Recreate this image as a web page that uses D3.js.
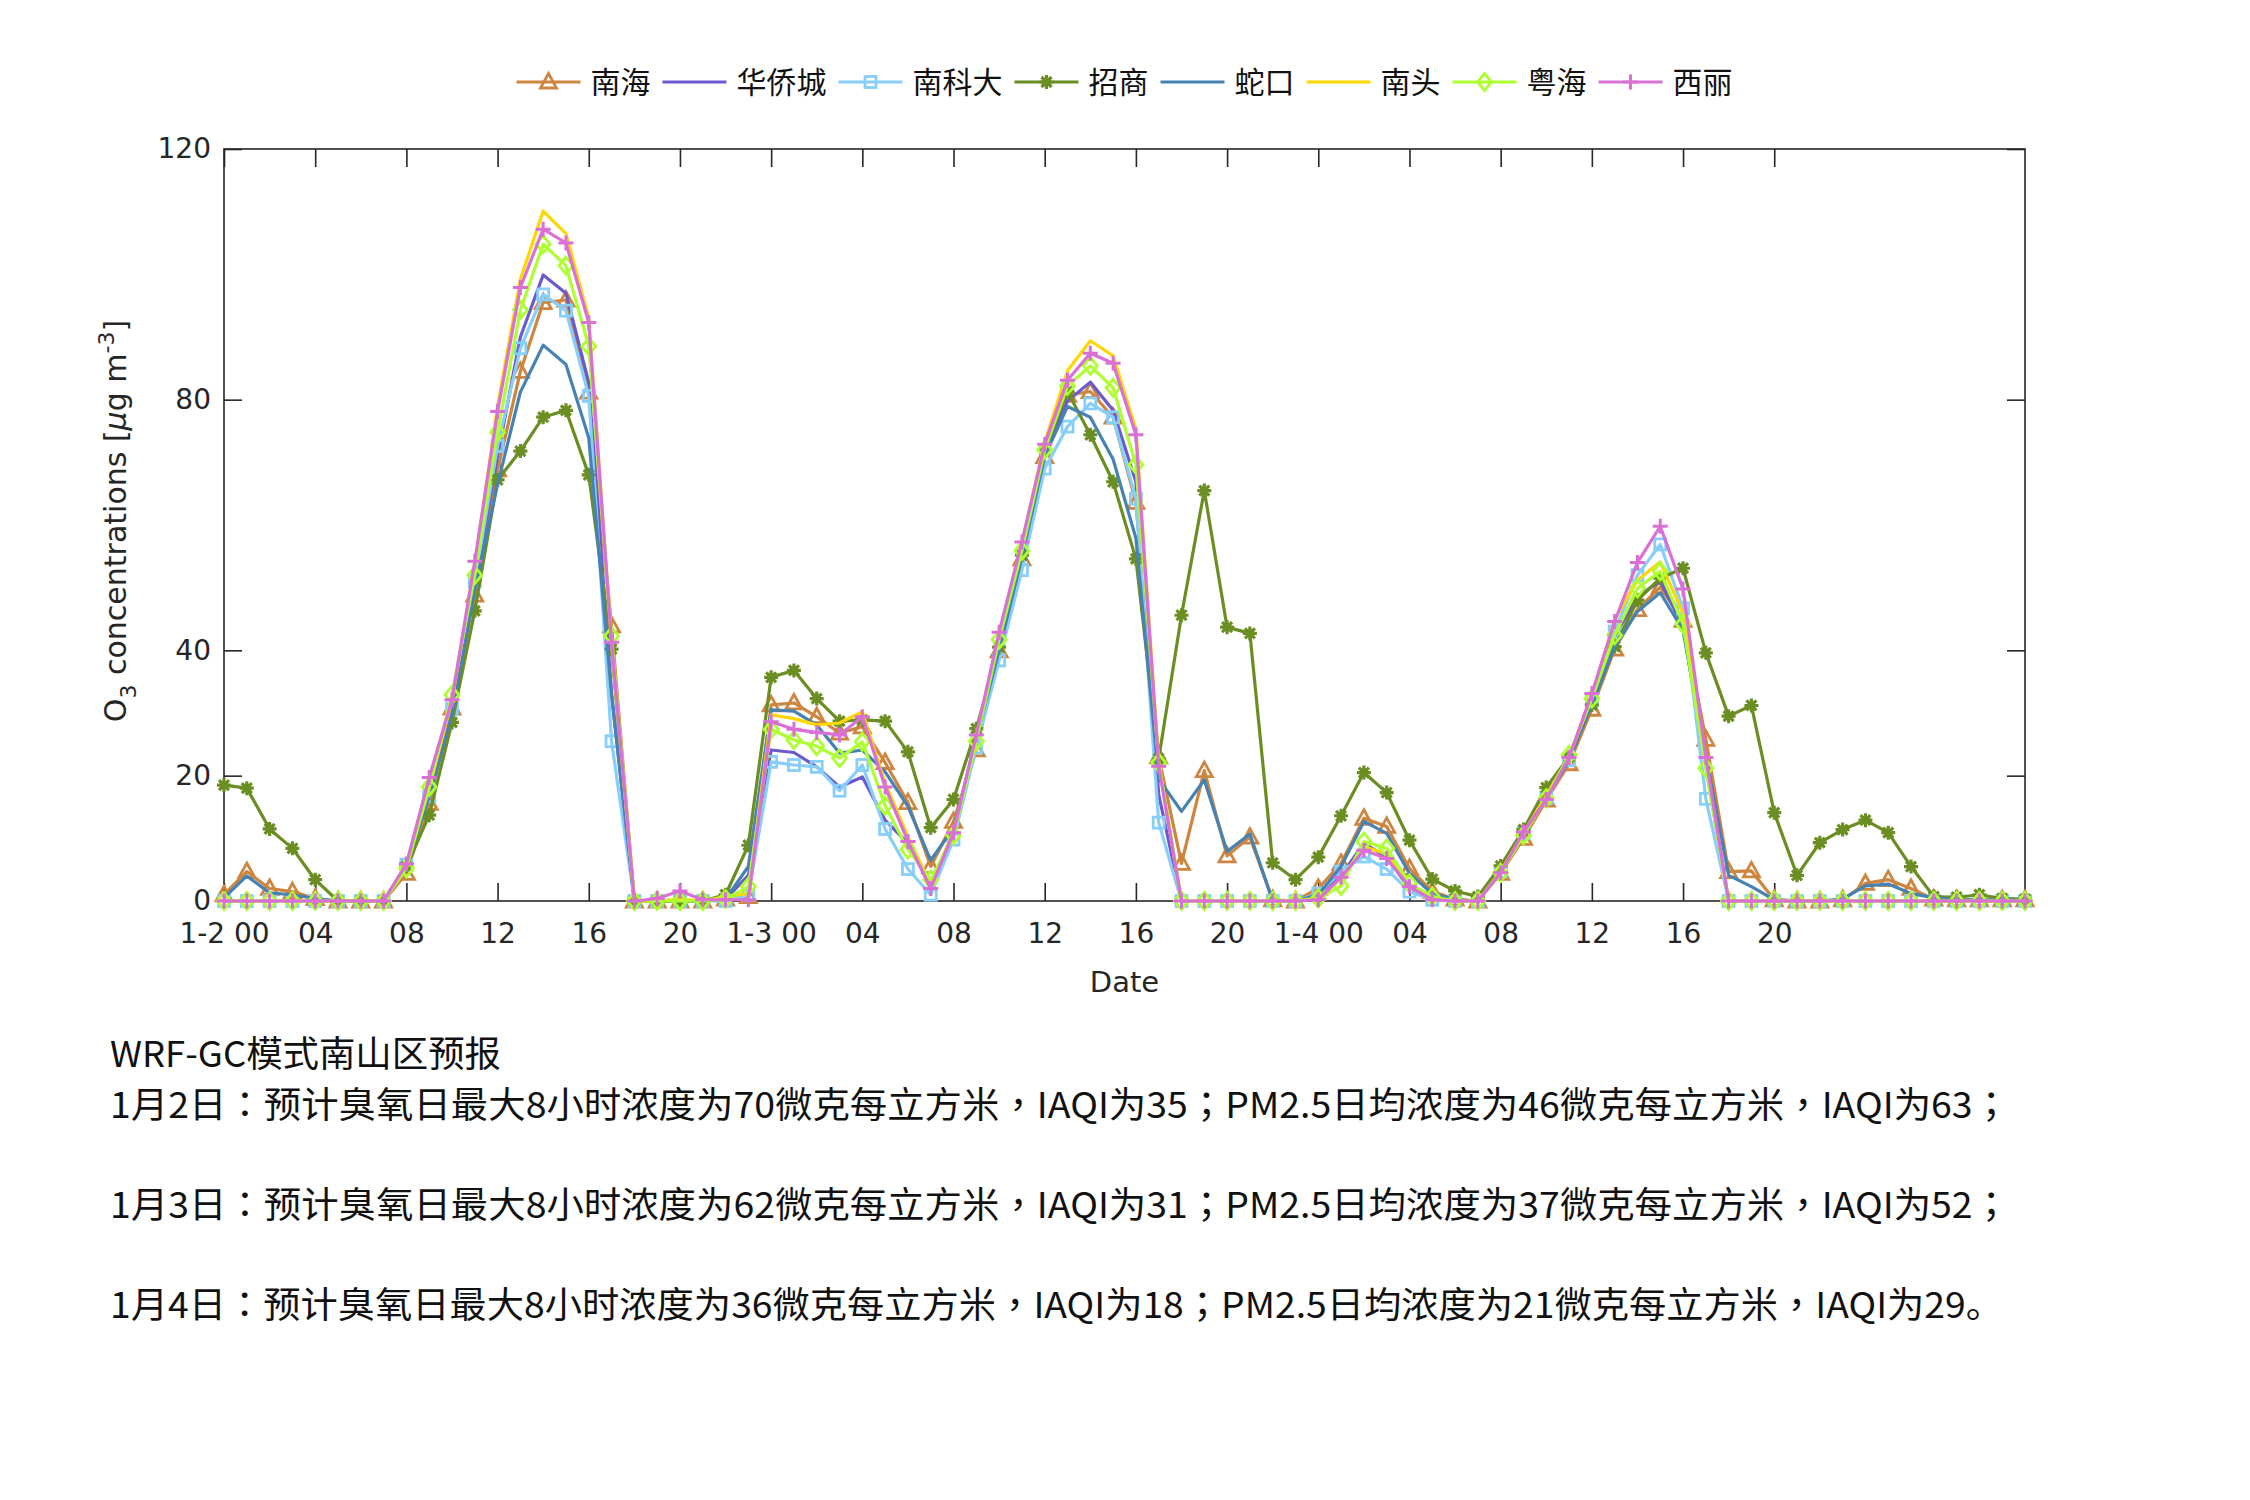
<!DOCTYPE html>
<html><head><meta charset="utf-8">
<script src="https://cdn.jsdelivr.net/npm/d3@7"></script>
<style>body{margin:0;background:#fff}</style>
</head><body>
<svg id="c" width="2250" height="1500" xmlns="http://www.w3.org/2000/svg"></svg>
<script>
// ---------------- data ----------------
const hours = d3.range(80); // hourly from 1-2 00
const stations = ["南海","华侨城","南科大","招商","蛇口","南头","粤海","西丽"];
const stationColors = ["#CD853F","#6A5ACD","#87CEFA","#6B8E23","#4682B4","#FFD700","#ADFF2F","#DA70D6"];
const stationMarkers = ["triangle","none","square","asterisk","none","none","diamond","plus"];

const nanhai = [1.0,4.7,2.0,1.5,0.4,0,0,0,4.4,15.6,
 30.8,48.8,68.8,84.5,95.5,95.9,81.2,43.9,0,0,
 0,0,0.3,0.7,31.3,31.6,29.4,26.8,27.8,22.1,
 15.7,5.5,12.7,24.1,39.9,54.6,70.9,80.7,81.3,77.2,
 63.6,23.0,6.0,20.8,7.2,10.2,0.2,0,2.0,6.0,
 13.2,11.9,5.2,1.5,0.3,0,4.4,10.0,16.1,21.9,
 30.6,40.2,46.5,50.1,44.8,25.8,4.7,4.8,0.2,0,
 0,0.2,2.8,3.4,2.0,0.3,0.2,0.2,0.2,0.2];
const huaqiaocheng = [0,0,0,0,0,0,0,0,5.8,16.7,
 30.0,50.5,71.0,90.0,99.9,97.0,82.7,33.0,0,0,
 0,0,0.3,4.1,24.1,23.7,21.4,18.2,19.8,12.9,
 9.2,2.3,10.8,25.5,40.5,55.5,71.5,79.8,82.8,78.3,
 66.9,17.0,0,0,0,0,0,0,0.5,4.1,
 9.2,7.0,2.0,0.3,0,0,4.7,10.8,16.5,22.5,
 31.5,42.2,48.6,51.0,43.8,21.5,0,0,0,0,
 0,0,0,0,0,0,0,0,0,0];
const nankeda = [0,0,0,0,0,0,0,0,5.8,16.7,
 30.7,51.0,72.6,88.2,96.8,94.2,80.6,25.5,0,0,
 0,0,0,1.0,22.2,21.7,21.4,17.6,21.7,11.5,
 5.1,1.0,9.8,24.5,38.4,52.8,69.0,75.7,79.4,77.2,
 64.2,12.5,0,0,0,0,0,0,1.2,4.7,
 7.1,5.1,1.5,0.2,0,0,4.7,10.8,16.5,22.5,
 32.0,43.0,52.0,56.9,46.7,16.3,0,0,0,0,
 0,0,0,0,0,0,0,0,0,0];
const zhaoshang = [18.5,18.0,11.5,8.4,3.4,0,0,0,5.5,13.7,
 28.5,46.3,67.2,71.8,77.2,78.3,68.0,40.2,0,0,
 0,0,1.0,8.9,35.7,36.8,32.3,28.7,28.9,28.7,
 23.8,11.7,16.2,27.5,40.5,55.2,72.0,81.3,74.4,66.9,
 54.6,22.7,45.6,65.5,43.7,42.7,6.1,3.4,7.0,13.6,
 20.5,17.3,9.7,3.5,1.6,0.7,5.6,11.4,18.1,23.0,
 31.3,40.6,48.0,51.5,53.1,39.6,29.5,31.2,14.1,4.1,
 9.3,11.4,12.9,10.9,5.5,0.7,0.6,1.0,0.4,0.3];
const shekou = [0.5,4.0,1.3,1.0,0.4,0,0,0,5.5,16.7,
 30.0,49.7,66.5,81.2,88.7,85.6,73.9,33.0,0,0,
 0,0,0.3,5.5,30.5,30.3,28.1,23.6,24.1,20.6,
 15.1,6.5,11.6,26.0,40.0,54.9,71.0,78.9,77.2,70.5,
 57.9,19.5,14.3,19.3,7.9,10.7,0,0,1.0,5.5,
 12.7,10.8,4.4,1.2,0.2,0,4.7,10.8,16.5,22.5,
 31.5,40.6,46.2,49.2,43.2,23.0,4.1,2.3,0.2,0,
 0,0.3,2.4,2.7,1.2,0.5,0.2,0.2,0.2,0.2];
const nantou = [0,0,0,0,0,0,0,0,5.8,18.0,
 32.0,53.4,79.0,99.2,110.1,106.5,93.0,41.0,0,0,
 0.3,0,0.7,1.2,29.7,29.1,28.1,28.4,30.2,18.8,
 10.3,2.6,11.1,26.0,42.3,57.0,73.2,84.6,89.4,87.0,
 75.3,22.0,0,0,0,0,0,0,0.5,3.5,
 8.7,7.5,2.5,0.3,0,0,4.7,10.8,16.8,23.0,
 32.5,44.9,51.2,54.1,45.9,22.0,0,0,0,0,
 0,0,0,0,0,0,0,0,0,0];
const yuehai = [0,0,0,0,0,0,0,0,5.2,18.2,
 32.9,52.0,74.8,94.3,104.8,101.4,88.5,42.3,0,0,
 0,0,0.3,2.3,27.4,25.7,24.7,22.8,25.4,15.2,
 8.2,3.4,10.5,25.5,41.7,55.9,72.0,82.2,85.4,81.9,
 69.6,22.1,0,0,0,0,0,0,0.4,2.4,
 9.5,8.4,2.8,0.7,0,0,4.5,10.5,16.4,23.3,
 32.3,42.4,49.9,52.6,44.2,21.2,0,0,0,0,
 0,0,0,0,0,0,0,0,0,0];
const xili = [0,0,0,0,0,0,0,0,5.9,19.7,
 32.1,54.2,78.1,97.9,107.2,105.0,92.3,41.3,0,0.4,
 1.6,0.2,0.2,0.2,28.6,27.4,26.9,26.5,29.4,18.2,
 9.5,2.0,10.9,26.5,42.9,57.3,72.9,83.1,87.4,85.8,
 74.4,21.5,0,0,0,0,0,0,0.2,3.8,
 8.1,6.8,2.3,0.2,0,0,4.5,11.0,16.2,22.9,
 33.1,44.6,54.0,59.8,49.8,22.9,0,0,0,0,
 0,0,0,0,0,0,0,0,0,0];

const seriesValues = [nanhai, huaqiaocheng, nankeda, zhaoshang, shekou, nantou, yuehai, xili];

const yTickValues = [0,20,40,80,120];
const xTickHours = [0,4,8,12,16,20,24,28,32,36,40,44,48,52,56,60,64,68];
const xTickLabels = ["1-2 00","04","08","12","16","20","1-3 00","04","08","12","16","20","1-4 00","04","08","12","16","20"];
const xLabel = "Date";
const noteTitle = "WRF-GC模式南山区预报";
const noteLines = [
 "1月2日：预计臭氧日最大8小时浓度为70微克每立方米，IAQI为35；PM2.5日均浓度为46微克每立方米，IAQI为63；",
 "1月3日：预计臭氧日最大8小时浓度为62微克每立方米，IAQI为31；PM2.5日均浓度为37微克每立方米，IAQI为52；",
 "1月4日：预计臭氧日最大8小时浓度为36微克每立方米，IAQI为18；PM2.5日均浓度为21微克每立方米，IAQI为29。"
];

// ---------------- layout ----------------
const L = 224, R = 2025, T = 149, B = 901;
const axisColor = "#262626";
const latin = "'DejaVu Sans', sans-serif";
const cjk = "'Noto Sans CJK SC', 'DejaVu Sans', sans-serif";
const cjkNote = "'Noto Sans CJK TC', 'Noto Sans CJK SC', sans-serif";

const svg = d3.select("#c");
const x = d3.scaleLinear().domain([0, 79]).range([L, R]);
const y = d3.scaleLinear().domain([0, 120]).range([B, T]);

// axes
function styleAxis(g){
  g.select(".domain").remove();
  g.selectAll(".tick line").attr("stroke", axisColor).attr("stroke-width", 1.6);
  g.selectAll(".tick text").attr("fill", axisColor).attr("font-family", latin).attr("font-size", 28);
}
svg.append("g").attr("transform", `translate(0,${B})`)
  .call(d3.axisBottom(x).tickValues(xTickHours).tickFormat((d,i)=>xTickLabels[i]).tickSizeInner(-18).tickSizeOuter(0).tickPadding(22))
  .call(styleAxis);
svg.append("g").attr("transform", `translate(0,${T})`)
  .call(d3.axisTop(x).tickValues(xTickHours).tickFormat("").tickSizeInner(-18).tickSizeOuter(0))
  .call(styleAxis);
svg.append("g").attr("transform", `translate(${L},0)`)
  .call(d3.axisLeft(y).tickValues(yTickValues).tickSizeInner(-18).tickSizeOuter(0).tickPadding(13))
  .call(styleAxis);
svg.append("g").attr("transform", `translate(${R},0)`)
  .call(d3.axisRight(y).tickValues(yTickValues).tickFormat("").tickSizeInner(-18).tickSizeOuter(0))
  .call(styleAxis);
svg.append("rect").attr("x", L).attr("y", T).attr("width", R-L).attr("height", B-T)
  .attr("fill","none").attr("stroke", axisColor).attr("stroke-width", 1.6);

// axis labels
svg.append("text").attr("x", (L+R)/2).attr("y", 992).attr("text-anchor","middle")
  .attr("font-family", latin).attr("font-size", 29).attr("fill", axisColor).text(xLabel);
const yl = svg.append("text").attr("transform", `translate(126,${(T+B)/2 - 4}) rotate(-90)`)
  .attr("text-anchor","middle").attr("font-family", latin).attr("font-size", 30).attr("fill", axisColor);
yl.append("tspan").text("O");
yl.append("tspan").attr("dy", 10).attr("font-size", 22).text("3");
yl.append("tspan").attr("dy", -10).text(" concentrations [");
yl.append("tspan").attr("font-style","italic").text("μ");
yl.append("tspan").text("g m");
yl.append("tspan").attr("dy", -12).attr("font-size", 22).text("-3");
yl.append("tspan").attr("dy", 12).text("]");

// markers
function drawMarker(g, type, color){
  if (type === "triangle") {
    g.append("path").attr("d","M0,-8.5L8,6L-8,6Z").attr("fill","none").attr("stroke",color).attr("stroke-width",2.8);
  } else if (type === "square") {
    g.append("rect").attr("x",-5.5).attr("y",-5.5).attr("width",11).attr("height",11).attr("fill","none").attr("stroke",color).attr("stroke-width",2.8);
  } else if (type === "diamond") {
    g.append("path").attr("d","M0,-8.5L7,0L0,8.5L-7,0Z").attr("fill","none").attr("stroke",color).attr("stroke-width",2.8);
  } else if (type === "plus") {
    g.append("path").attr("d","M-7.5,0H7.5M0,-7.5V7.5").attr("fill","none").attr("stroke",color).attr("stroke-width",3);
  } else if (type === "asterisk") {
    g.append("path").attr("d","M-7,0H7M0,-7V7M-5,-5L5,5M-5,5L5,-5").attr("fill","none").attr("stroke",color).attr("stroke-width",3.2);
    g.append("circle").attr("r",4).attr("fill",color);
  }
}

// series
const line = d3.line().x((d,i)=>x(hours[i])).y(d=>y(d));
seriesValues.forEach((vals, k) => {
  const color = stationColors[k];
  const g = svg.append("g");
  g.append("path").datum(vals).attr("d", line).attr("fill","none")
    .attr("stroke", color).attr("stroke-width", 3.2).attr("stroke-linejoin","round");
  if (stationMarkers[k] !== "none") {
    vals.forEach((v,i) => {
      const mg = g.append("g").attr("transform", `translate(${x(hours[i])},${y(v)})`);
      drawMarker(mg, stationMarkers[k], color);
    });
  }
});

// legend
const legend = svg.append("g");
let cx = 0;
const legendY = 82;
stations.forEach((name, k) => {
  const it = legend.append("g").attr("transform", `translate(${cx},0)`);
  it.append("line").attr("x1",0).attr("x2",64).attr("y1",legendY).attr("y2",legendY)
    .attr("stroke", stationColors[k]).attr("stroke-width",3.2);
  if (stationMarkers[k] !== "none") {
    drawMarker(it.append("g").attr("transform", `translate(32,${legendY})`), stationMarkers[k], stationColors[k]);
  }
  const t = it.append("text").attr("x", 74).attr("y", legendY + 11).attr("font-family", cjk)
    .attr("font-size", 30).attr("fill","#111").text(name);
  cx += 74 + t.node().getComputedTextLength() + 12;
});
legend.attr("transform", `translate(${(L+R)/2 - (cx-12)/2},0)`);

// notes
const noteX = 110;
svg.append("text").attr("x", noteX).attr("y", 1067).attr("font-family", cjkNote).attr("font-size", 36)
  .attr("fill","#111").attr("textLength", 391).attr("lengthAdjust","spacingAndGlyphs").text(noteTitle);
const noteYs = [1118, 1218, 1318];
const noteWidths = [1900, 1900, 1893];
noteLines.forEach((s,i) => {
  const t = svg.append("text").attr("x", noteX).attr("y", noteYs[i]).attr("font-family", cjkNote).attr("font-size", 36)
    .attr("fill","#111").attr("textLength", noteWidths[i]).attr("lengthAdjust","spacingAndGlyphs");
  if (s.endsWith("。")) {
    t.append("tspan").text(s.slice(0, -1));
    t.append("tspan").attr("font-family", cjk).text("。");
  } else {
    t.text(s);
  }
});
</script>
</body></html>
